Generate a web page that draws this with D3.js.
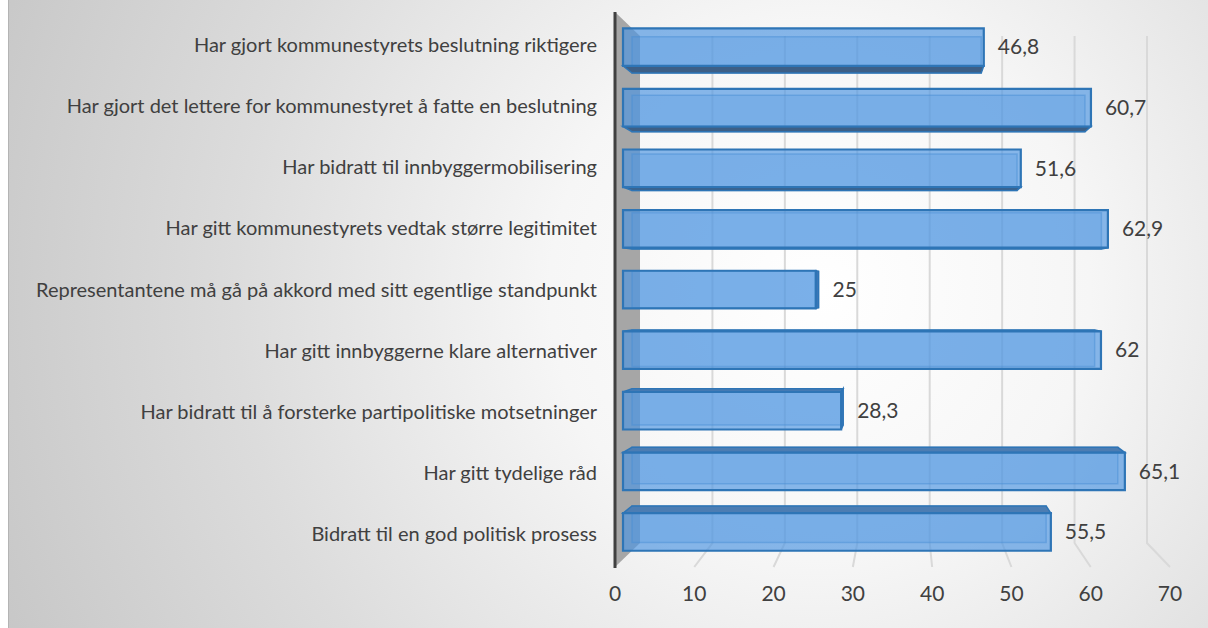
<!DOCTYPE html>
<html>
<head>
<meta charset="utf-8">
<style>
  html, body { margin: 0; padding: 0; background: #ffffff; }
  svg { display: block; }
  text { font-family: Lato, "Open Sans", sans-serif; fill: #404040; }
</style>
</head>
<body>
<div id="chart"></div>
<script src="https://cdn.jsdelivr.net/npm/d3@7"></script>
<script>
(function () {
  "use strict";

  // data (top to bottom as drawn)
  var categories = [
    "Har gjort kommunestyrets beslutning riktigere",
    "Har gjort det lettere for kommunestyret å fatte en beslutning",
    "Har bidratt til innbyggermobilisering",
    "Har gitt kommunestyrets vedtak større legitimitet",
    "Representantene må gå på akkord med sitt egentlige standpunkt",
    "Har gitt innbyggerne klare alternativer",
    "Har bidratt til å forsterke partipolitiske motsetninger",
    "Har gitt tydelige råd",
    "Bidratt til en god politisk prosess"
  ];
  var values = [46.8, 60.7, 51.6, 62.9, 25, 62, 28.3, 65.1, 55.5];
  var ticks = [0, 10, 20, 30, 40, 50, 60, 70];

  var W = 1208, H = 628;

  var svg = d3.select("#chart").append("svg")
    .attr("width", W).attr("height", H);

  var defs = svg.append("defs");
  var bg = defs.append("radialGradient")
    .attr("id", "bg")
    .attr("gradientUnits", "userSpaceOnUse")
    .attr("cx", 820).attr("cy", 290).attr("r", 900);
  bg.append("stop").attr("offset", "0").attr("stop-color", "#ffffff");
  bg.append("stop").attr("offset", "0.3").attr("stop-color", "#f6f6f6");
  bg.append("stop").attr("offset", "0.65").attr("stop-color", "#dcdcdc");
  bg.append("stop").attr("offset", "1").attr("stop-color", "#c6c6c6");

  svg.append("rect")
    .attr("x", 8).attr("y", 0).attr("width", W - 8).attr("height", H)
    .attr("fill", "url(#bg)");
  svg.append("line")
    .attr("x1", 8.5).attr("x2", 8.5).attr("y1", 0).attr("y2", H)
    .attr("stroke", "#b4b4b4");

  // scales in the front plane
  var x = d3.scaleLinear().domain([0, 70]).range([615, 1170]);
  var y = d3.scaleBand().domain(categories).range([9, 570])
    .paddingInner(0.38).paddingOuter(0.19);

  // simple perspective toward a vanishing point
  var vx = 904, vy = 290, k = 0.0865;
  function project(px, py, t) {
    return [px + (vx - px) * k * t, py + (vy - py) * k * t];
  }
  function pts(arr) { return arr.map(function (p) { return p.join(","); }).join(" "); }

  var wallTop = 12, wallBottom = 567;
  var t0 = 0.32, t1 = 0.68; // bar depth

  // left wall
  var wall = [project(x(0), wallTop, 0), project(x(0), wallTop, 1),
              project(x(0), wallBottom, 1), project(x(0), wallBottom, 0)];
  svg.append("polygon")
    .attr("points", pts(wall))
    .attr("fill", "#a6a6a6");

  // back wall gridlines and floor lines
  var grid = svg.append("g").attr("stroke", "#d9d9d9").attr("stroke-width", 2).attr("fill", "none");
  ticks.forEach(function (v) {
    if (v === 0) return;
    var a = project(x(v), wallTop, 1), b = project(x(v), wallBottom, 1), c = [x(v), wallBottom];
    grid.append("polyline").attr("points", pts([a, b, c]));
  });

  svg.append("line")
    .attr("x1", x(0)).attr("x2", x(0))
    .attr("y1", wallTop).attr("y2", wallBottom + 1)
    .attr("stroke", "#404040").attr("stroke-width", 3);

  var bars = svg.append("g");
  categories.forEach(function (c, i) {
    var v = values[i];
    var yt = y(c), yb = y(c) + y.bandwidth();
    var x0 = x(0), x1 = x(v);
    var g = bars.append("g");

    var fTL = project(x0, yt, t0), fTR = project(x1, yt, t0),
        fBR = project(x1, yb, t0), fBL = project(x0, yb, t0);
    var bTL = project(x0, yt, t1), bTR = project(x1, yt, t1),
        bBR = project(x1, yb, t1), bBL = project(x0, yb, t1);

    // back face (seen through)
    g.append("polygon").attr("points", pts([bTL, bTR, bBR, bBL]))
      .attr("fill", "rgba(80,150,225,0.25)")
      .attr("stroke", "rgba(46,117,182,0.45)").attr("stroke-width", 1.5);

    if (yb < vy) {
      // bottom face visible
      g.append("polygon").attr("points", pts([fBL, fBR, bBR, bBL]))
        .attr("fill", "#3d5f86").attr("stroke", "#2e75b6").attr("stroke-width", 1.5);
    }
    if (yt > vy) {
      // top face visible
      g.append("polygon").attr("points", pts([fTL, fTR, bTR, bTL]))
        .attr("fill", "#4c7db3").attr("stroke", "#2e75b6").attr("stroke-width", 1.5);
    }
    if (x1 < vx) {
      g.append("polygon").attr("points", pts([fTR, bTR, bBR, fBR]))
        .attr("fill", "#3f79b8").attr("stroke", "#2e75b6").attr("stroke-width", 1.5);
    }

    // front face
    g.append("polygon").attr("points", pts([fTL, fTR, fBR, fBL]))
      .attr("fill", "rgba(80,150,225,0.68)")
      .attr("stroke", "#2e75b6").attr("stroke-width", 2.2);

    // value label
    var cy = (fTR[1] + fBR[1]) / 2;
    var lx = Math.max(fTR[0], bTR[0]) + 14;
    svg.append("text")
      .attr("x", lx).attr("y", cy)
      .attr("dy", "0.35em")
      .style("font-size", "21px")
      .text(String(v).replace(".", ","));
  });

  // category labels
  svg.append("g").selectAll("text")
    .data(categories).enter().append("text")
    .attr("x", 597)
    .attr("y", function (d) {
      var cy = y(d) + y.bandwidth() / 2;
      return project(0, cy, 0.22)[1];
    })
    .attr("dy", "0.35em")
    .attr("text-anchor", "end")
    .style("font-size", "20px")
    .text(function (d) { return d; });

  // x axis tick labels
  svg.append("g").selectAll("text")
    .data(ticks).enter().append("text")
    .attr("x", function (d) { return x(d); })
    .attr("y", 594)
    .attr("dy", "0.35em")
    .attr("text-anchor", "middle")
    .style("font-size", "21px")
    .text(function (d) { return d; });
})();
</script>
</body>
</html>
